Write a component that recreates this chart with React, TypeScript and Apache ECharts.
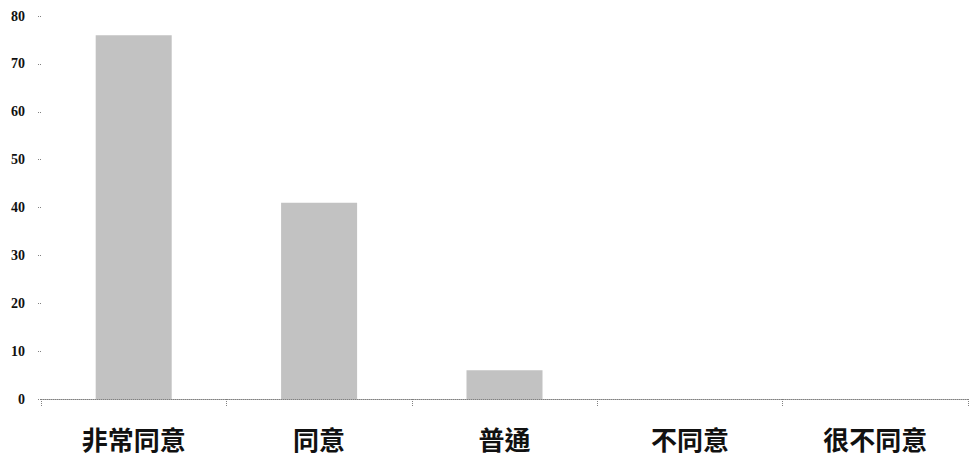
import React, { useEffect, useRef } from "react";
import * as echarts from "echarts";

const categories = ["非常同意", "同意", "普通", "不同意", "很不同意"];
const values = [76, 41, 6, 0, 0];
const yTicks = { min: 0, max: 80, interval: 10 };

export default function App() {
  const ref = useRef<HTMLDivElement>(null);
  useEffect(() => {
    if (!ref.current) return;
    const chart = echarts.init(ref.current, null, { renderer: "svg" });
    chart.setOption({
      animation: false,
      backgroundColor: "#ffffff",
      grid: { left: 41, right: 1, top: 16, bottom: 59, containLabel: false },
      xAxis: {
        type: "category",
        data: categories,
        boundaryGap: true,
        axisLine: { show: true, lineStyle: { color: "#808080", type: "dotted", width: 1 } },
        axisTick: { show: true, length: 7, lineStyle: { color: "#808080", type: "dotted" } },
        axisLabel: {
          margin: 26,
          fontSize: 26,
          fontWeight: "bold",
          color: "#111",
          fontFamily: "'Noto Sans CJK TC', 'Noto Sans CJK SC', sans-serif",
        },
        splitLine: { show: false },
      },
      yAxis: {
        type: "value",
        min: yTicks.min,
        max: yTicks.max,
        interval: yTicks.interval,
        axisLine: { show: false },
        axisTick: { show: true, length: 4, lineStyle: { color: "#808080", type: "dotted" } },
        axisLabel: {
          margin: 16,
          fontSize: 14,
          fontWeight: "bold",
          color: "#111",
          fontFamily: "'Liberation Serif', 'DejaVu Serif', serif",
        },
        splitLine: { show: false },
      },
      series: [
        {
          type: "bar",
          data: values,
          barWidth: "41%",
          itemStyle: { color: "#c2c2c2" },
        },
      ],
    });
    return () => chart.dispose();
  }, []);
  return <div ref={ref} style={{ width: 969, height: 458, position: "absolute", left: 0, top: 0 }} />;
}
